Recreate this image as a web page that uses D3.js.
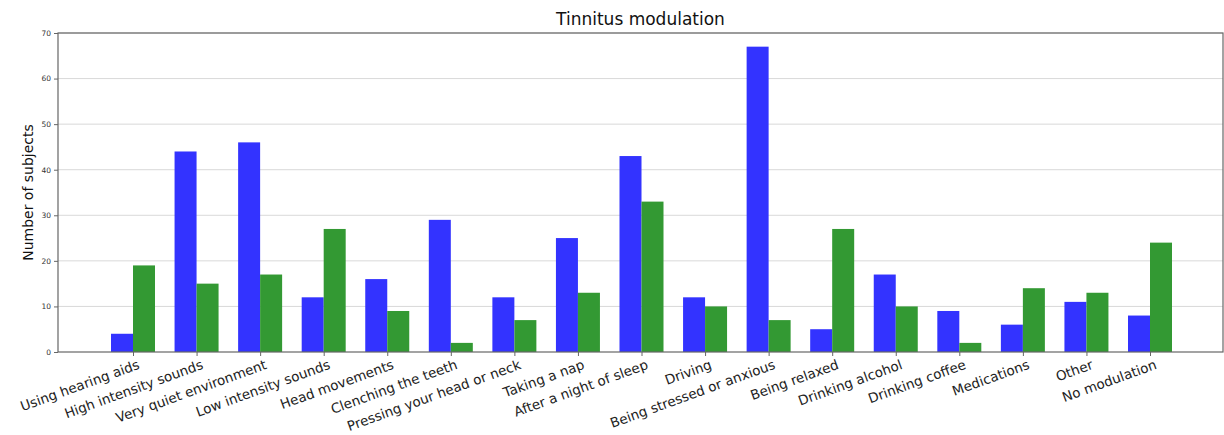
<!DOCTYPE html>
<html><head><meta charset="utf-8">
<script src="https://cdn.jsdelivr.net/npm/d3@7"></script>
<style>body{margin:0;background:#fff}svg{display:block}text{font-family:"DejaVu Sans",sans-serif}</style>
</head><body>
<svg id="c" width="1224" height="435"></svg>
<script>
const categories = ["Using hearing aids","High intensity sounds","Very quiet environment","Low intensity sounds","Head movements","Clenching the teeth","Pressing your head or neck","Taking a nap","After a night of sleep","Driving","Being stressed or anxious","Being relaxed","Drinking alcohol","Drinking coffee","Medications","Other","No modulation"];
const seriesA = [4,44,46,12,16,29,12,25,43,12,67,5,17,9,6,11,8];
const seriesB = [19,15,17,27,9,2,7,13,33,10,7,27,10,2,14,13,24];
const yTicks = [0,10,20,30,40,50,60,70];
const title = "Tinnitus modulation";
const yLabel = "Number of subjects";

const svg = d3.select("#c");
const L = 58, R = 1223, T = 33, B = 352;
const x0 = 133, step = (1150 - 133) / 16;
const x = d3.scaleLinear().domain([0, 16]).range([x0, x0 + 16 * step]);
const bw = 22;
const y = d3.scaleLinear().domain([0, 70]).range([B, T]);

// grid
svg.append("g").selectAll("line").data(yTicks.slice(1)).join("line")
  .attr("x1", L).attr("x2", R).attr("y1", d => y(d)).attr("y2", d => y(d))
  .attr("stroke", "#d9d9d9").attr("stroke-width", 1);

// bars
const g = svg.append("g");
g.selectAll(".a").data(seriesA).join("rect")
  .attr("x", (d, i) => x(i) - bw).attr("width", bw)
  .attr("y", d => y(d)).attr("height", d => y(0) - y(d))
  .attr("fill", "#3333ff");
g.selectAll(".b").data(seriesB).join("rect")
  .attr("x", (d, i) => x(i)).attr("width", bw)
  .attr("y", d => y(d)).attr("height", d => y(0) - y(d))
  .attr("fill", "#339933");

// frame
svg.append("rect").attr("x", L).attr("y", T).attr("width", R - L).attr("height", B - T)
  .attr("fill", "none").attr("stroke", "#666").attr("stroke-width", 1.2);

// y axis
const ya = svg.append("g").attr("transform", `translate(${L},0)`)
  .call(d3.axisLeft(y).tickValues(yTicks).tickSize(4).tickPadding(3));
ya.select(".domain").remove();
ya.selectAll("line").attr("stroke", "#666");
ya.selectAll("text").attr("font-size", 7.5).attr("fill", "#333");

// x axis
const xa = svg.append("g").attr("transform", `translate(0,${B})`)
  .call(d3.axisBottom(x).tickValues(d3.range(categories.length)).tickFormat(i => categories[i]).tickSize(4).tickPadding(2));
xa.select(".domain").remove();
xa.selectAll("line").attr("stroke", "#666");
xa.selectAll("text").attr("font-size", 13.5).attr("fill", "#222")
  .attr("text-anchor", "end").attr("dy", "0.85em")
  .attr("transform", function() { return "translate(1,0) rotate(-20)"; });

// title
svg.append("text").attr("x", (L + R) / 2).attr("y", 25).attr("text-anchor", "middle")
  .attr("font-size", 17).attr("fill", "#111").text(title);
// y label
svg.append("text").attr("transform", `translate(33,${(T + B) / 2}) rotate(-90)`)
  .attr("text-anchor", "middle").attr("font-size", 14).attr("fill", "#111").text(yLabel);
</script>
</body></html>
